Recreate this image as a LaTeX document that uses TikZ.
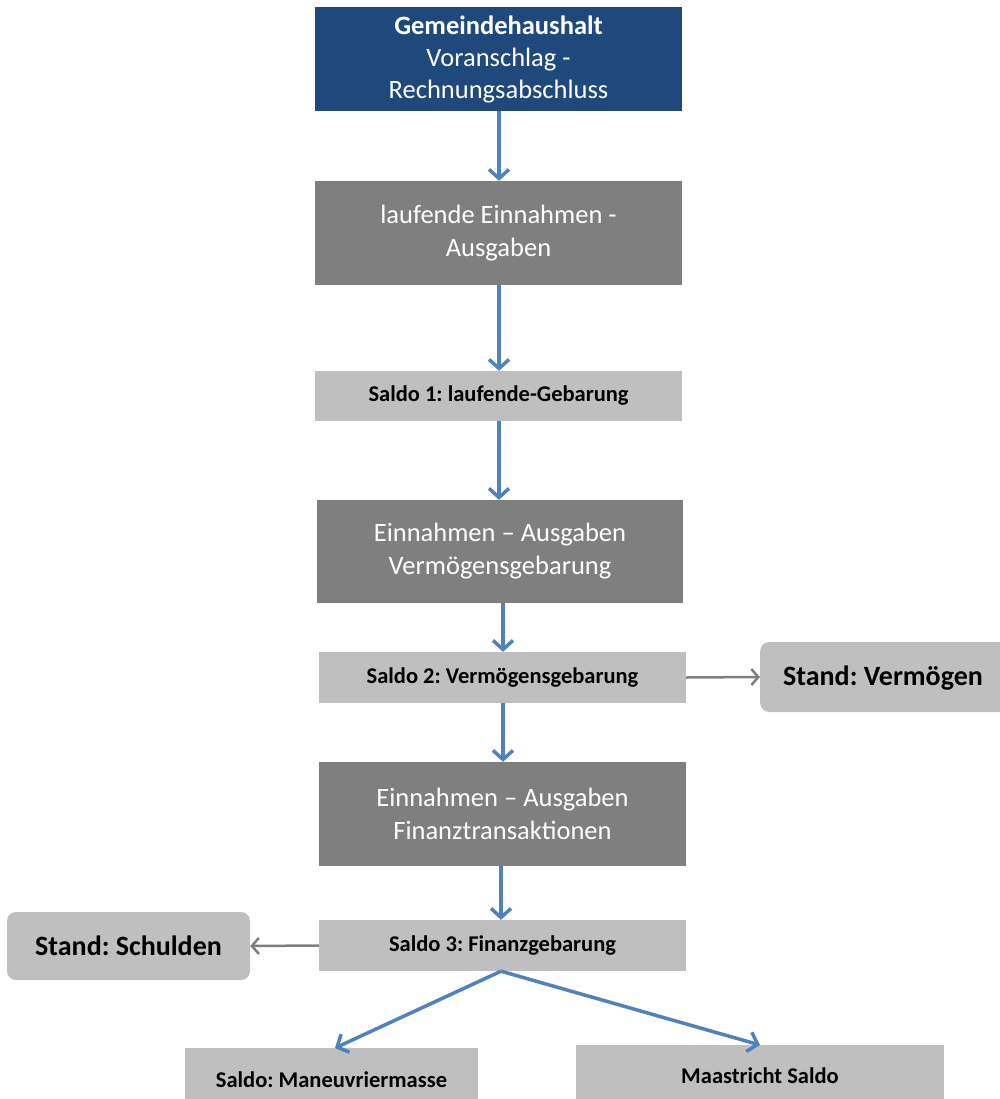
\documentclass[tikz,border=0pt]{standalone}
\usepackage{fontspec}
\setmainfont{Carlito}
\usetikzlibrary{arrows.meta}
\frenchspacing
\definecolor{navy}{HTML}{1F497D}
\definecolor{dgray}{HTML}{7F7F7F}
\definecolor{lgray}{HTML}{BFBFBF}
\definecolor{ablue}{HTML}{4F81BD}
\definecolor{agray}{HTML}{7F7F7F}
\tikzset{
  bigbox/.style={fill=dgray, text=white, font=\fontsize{26.5}{33}\selectfont, align=center, inner sep=0pt},
  saldobox/.style={fill=lgray, text=black, font=\bfseries\fontsize{22.5}{26}\selectfont, align=center, inner sep=0pt},
  saldotext/.style={font=\bfseries\fontsize{22.5}{26}\selectfont, inner sep=0pt},
  standbox/.style={fill=lgray, text=black, rounded corners=9pt, font=\bfseries\fontsize{28}{32}\selectfont, align=center, inner sep=0pt},
  standtext/.style={font=\bfseries\fontsize{28}{32}\selectfont, inner sep=0pt},
  flow/.style={draw=ablue, line width=3.5pt, -{Straight Barb[length=9pt,width=20pt,line width=3.5pt]}},
  side/.style={draw=agray, line width=2.5pt, -{Straight Barb[length=7pt,width=16pt,line width=2.5pt]}},
}
\begin{document}
\begin{tikzpicture}[x=1pt,y=-1pt]
\useasboundingbox (0,0) rectangle (999,1099);
% boxes
\node[fill=navy, text=white, font=\fontsize{26.5}{32}\selectfont, align=center, inner sep=0pt,
  minimum width=367pt, minimum height=104pt] (gh) at (498.5,59) {\textbf{Gemeindehaushalt}\\Voranschlag -\\Rechnungsabschluss};
\node[bigbox, minimum width=367pt, minimum height=104pt] (lauf) at (498.5,233) {laufende Einnahmen -\\Ausgaben};
\node[saldobox, minimum width=367pt, minimum height=50pt] (s1) at (498.5,396) {Saldo 1: laufende-Gebarung};
\node[bigbox, minimum width=366pt, minimum height=103pt] (verm) at (500,551.5) {Einnahmen – Ausgaben\\Vermögensgebarung};
\node[saldobox, minimum width=367pt, minimum height=51pt] (s2) at (502.5,677.5) {Saldo 2: Vermögensgebarung};
\node[standbox, minimum width=260pt, minimum height=70pt, anchor=west] (sv) at (760,677) {};
\node[standtext] (svt) at (883,678) {Stand: Vermögen};
\node[bigbox, minimum width=367pt, minimum height=104pt] (fin) at (502.5,814) {Einnahmen – Ausgaben\\Finanztransaktionen};
\node[saldobox, minimum width=367pt, minimum height=51pt] (s3) at (502.5,945.5) {Saldo 3: Finanzgebarung};
\node[standbox, minimum width=243pt, minimum height=68pt] (ss) at (128.5,946) {Stand: Schulden};
\node[saldobox, minimum width=293pt, minimum height=60pt, anchor=north] (man) at (331.5,1048) {};
\node[saldotext] (mant) at (331.5,1080) {Saldo: Maneuvriermasse};
\node[saldobox, minimum width=368pt, minimum height=60pt, anchor=north] (maa) at (760,1045) {};
\node[saldotext] (maat) at (760,1076) {Maastricht Saldo};
% connectors
\draw[flow] (gh.south -| 499,0) -- (lauf.north -| 499,0);
\draw[flow] (lauf.south -| 499,0) -- (s1.north -| 499,0);
\draw[flow] (s1.south -| 499,0) -- (verm.north -| 499,0);
\draw[flow] (verm.south -| 503,0) -- (s2.north -| 503,0);
\draw[flow] (s2.south -| 503,0) -- (fin.north -| 503,0);
\draw[flow] (fin.south -| 501,0) -- (s3.north -| 501,0);
\draw[flow] (s3.south -| 501,0) -- (man.north -| 335,0);
\draw[flow] (s3.south -| 501,0) -- (maa.north);
\draw[side] (s2.east) -- (sv.west);
\draw[side] (s3.west) -- (ss.east);
\end{tikzpicture}
\end{document}
